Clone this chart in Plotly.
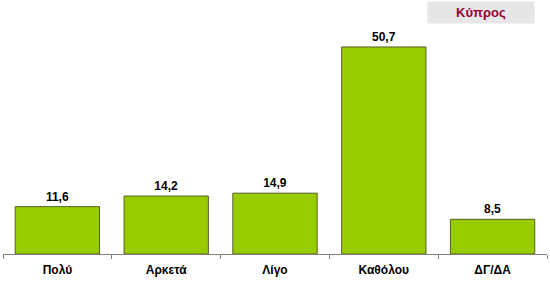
import plotly.graph_objects as go

categories = ["Πολύ", "Αρκετά", "Λίγο", "Καθόλου", "ΔΓ/ΔΑ"]
values = [11.6, 14.2, 14.9, 50.7, 8.5]
labels = ["11,6", "14,2", "14,9", "50,7", "8,5"]

fig = go.Figure(go.Bar(
    x=categories, y=values,
    text=labels, textposition="outside", cliponaxis=False,
    texttemplate="<b>%{text}</b>",
    textfont=dict(family="Liberation Sans, Arial", size=12, color="#000000"),
    marker=dict(color="#99cc00", line=dict(color="#555f2a", width=1)),
    width=0.775,
))

fig.update_layout(
    width=550, height=282,
    margin=dict(l=3, r=3, t=9, b=28),
    paper_bgcolor="white", plot_bgcolor="white",
    showlegend=False,
    font=dict(family="Liberation Sans, Arial", size=12, color="#000000"),
    xaxis=dict(
        showline=True, linecolor="#808080", linewidth=1,
        ticks="outside", tickson="boundaries", ticklen=4, tickcolor="#808080",
        ticklabelstandoff=5,
        tickvals=categories, ticktext=["<b>%s</b>" % c for c in categories],
        tickfont=dict(family="Liberation Sans, Arial", size=12, color="#000000"),
        showgrid=False,
    ),
    yaxis=dict(range=[0, 60], visible=False, showgrid=False, zeroline=False),
    annotations=[dict(
        text="<b>Κύπρος</b>", xref="paper", yref="paper",
        x=0.878, y=1.033, xanchor="center", yanchor="top",
        showarrow=False, bgcolor="#e6e6e6", width=104, height=19,
        font=dict(family="Liberation Sans, Arial", size=13, color="#990033"),
    )],
)

fig.write_html("out.html")
